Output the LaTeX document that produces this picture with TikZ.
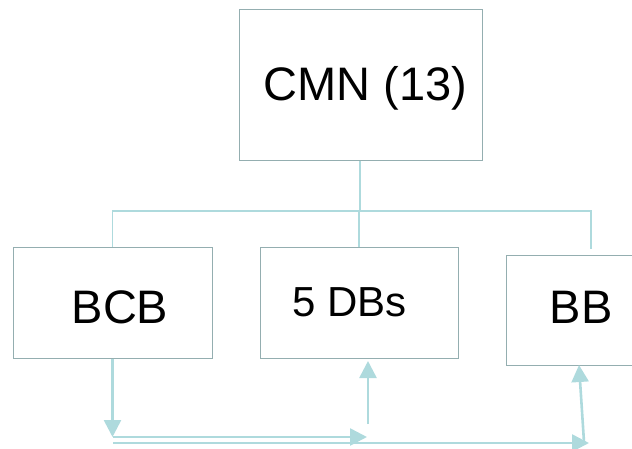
\documentclass[tikz,border=0pt]{standalone}
\usepackage{fontspec}
\setmainfont{Liberation Sans}
\usetikzlibrary{arrows.meta}
\definecolor{boxc}{HTML}{94AEB0}
\definecolor{linec}{HTML}{AEDADD}
\begin{document}
\begin{tikzpicture}[x=1pt,y=-1pt,
  box/.style={draw=boxc, line width=1pt, fill=white, inner sep=0pt},
  lbl/.style={inner sep=0pt, font=\fontsize{47}{50}\selectfont},
  conn/.style={draw=linec, line width=1.6pt},
  arr/.style={draw=linec, line width=2.6pt, -{Triangle[length=17pt,width=17pt]}, color=linec}]
\useasboundingbox (0,0) rectangle (632,448);
% boxes
\node[box, minimum width=243pt, minimum height=151pt] (cmn) at (360.5,84.5) {};
\node[box, minimum width=199pt, minimum height=111pt] (bcb) at (112.5,302.5) {};
\node[box, minimum width=198pt, minimum height=111pt] (dbs) at (359,302.5) {};
\node[box, minimum width=150pt, minimum height=110pt] (bb) at (581,310) {};
% labels
\node[lbl] (cmnT) at (365.5,88) {CMN (13)};
\node[lbl] (bcbT) at (120,307) {BCB};
\node[lbl, font=\fontsize{42}{46}\selectfont] (dbsT) at (349.5,302) {5 DBs};
\node[lbl] (bbT) at (581,307) {BB};
% tree connectors
\coordinate (hub) at (360,211);
\coordinate (bbstop) at (591,249);
\draw[conn] (cmn.south -| hub) -- (hub);
\draw[conn] (bcb.north) |- (hub) -| (bbstop);
\draw[conn] (dbs.north |- hub) -- (dbs.north);
% bottom arrows
\coordinate (c1) at (112.5,437);
\coordinate (c2) at (367,437);
\coordinate (c3) at (113,443);
\coordinate (c4) at (589,443);
\coordinate (u1) at (368,424);
\coordinate (u2) at (368,361);
\coordinate (b1) at (584,442);
\coordinate (b2) at (579,365);
\draw[arr] (bcb.south) -- (c1);
\draw[arr] (113,437) -- (c2);
\draw[arr] (c3) -- (c4);
\draw[arr] (u1) -- (u2);
\draw[arr] (b1) -- (b2);
\end{tikzpicture}
\end{document}
